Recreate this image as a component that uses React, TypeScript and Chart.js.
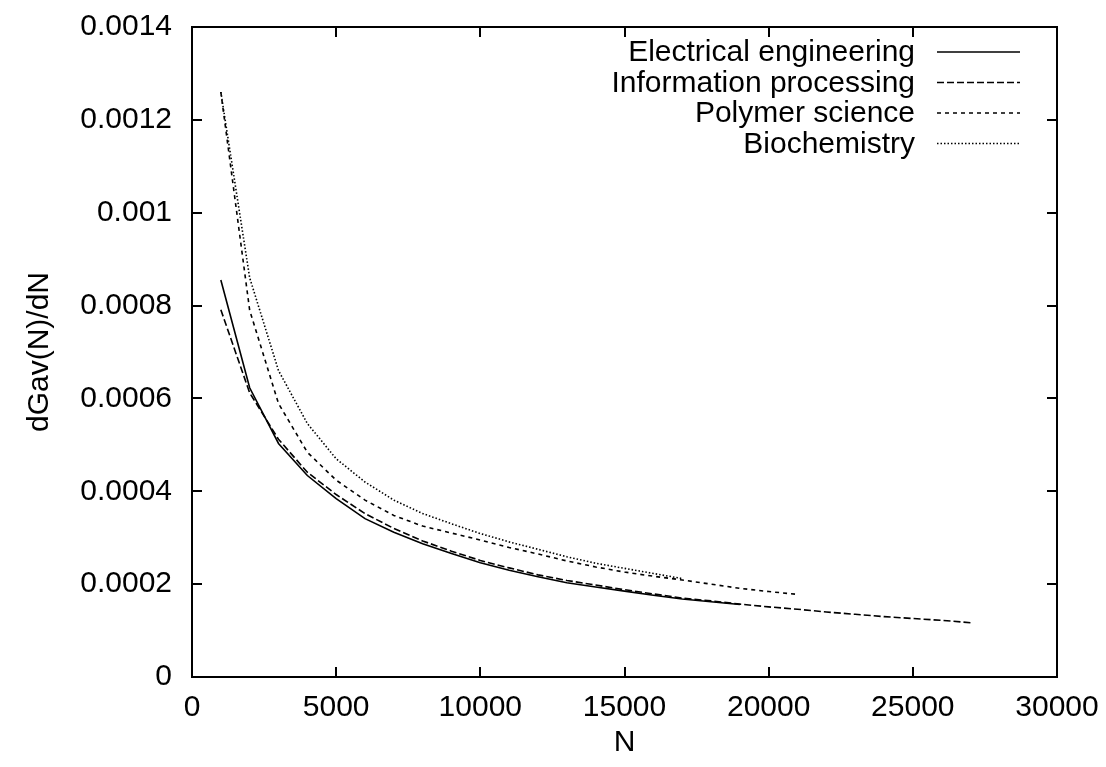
import React, { useEffect, useRef } from "react";
import { Chart, registerables } from "chart.js";

Chart.register(...registerables);

// ---- data ----
const nEE = [1000, 2000, 3000, 4000, 5000, 6000, 7000, 8000, 9000, 10000, 11000, 12000, 13000, 14000, 15000, 16000, 17000, 18000, 19000];
const vEE = [0.000855, 0.000623, 0.000503, 0.000434, 0.000384, 0.000341, 0.000312, 0.000287, 0.000266, 0.000246, 0.00023, 0.000216, 0.000203, 0.000194, 0.000185, 0.000176, 0.000168, 0.000162, 0.000156];

const nIP = [1000, 2000, 3000, 4000, 5000, 6000, 7000, 8000, 9000, 10000, 11000, 12000, 13000, 14000, 15000, 16000, 17000, 18000, 19000, 20000, 21000, 22000, 23000, 24000, 25000, 26000, 27000];
const vIP = [0.000791, 0.000612, 0.000512, 0.000441, 0.000393, 0.000352, 0.00032, 0.000293, 0.000271, 0.000251, 0.000235, 0.00022, 0.000208, 0.000198, 0.000188, 0.000179, 0.00017, 0.000164, 0.000157, 0.000151, 0.000146, 0.00014, 0.000135, 0.00013, 0.000126, 0.000122, 0.000117];

const nPS = [1000, 2000, 3000, 4000, 5000, 6000, 7000, 8000, 9000, 10000, 11000, 12000, 13000, 14000, 15000, 16000, 17000, 18000, 19000, 20000, 21000];
const vPS = [0.00126, 0.00079, 0.000589, 0.000484, 0.000424, 0.000381, 0.000348, 0.000325, 0.00031, 0.000295, 0.000279, 0.000265, 0.00025, 0.000237, 0.000226, 0.000217, 0.000209, 0.0002, 0.000191, 0.000184, 0.000178];

const nBC = [1000, 2000, 3000, 4000, 5000, 6000, 7000, 8000, 9000, 10000, 11000, 12000, 13000, 14000, 15000, 16000, 17000];
const vBC = [0.00126, 0.00086, 0.00066, 0.000546, 0.00047, 0.00042, 0.000381, 0.000352, 0.00033, 0.000309, 0.000291, 0.000275, 0.000259, 0.000245, 0.000234, 0.000223, 0.000212];

const seriesLabels = ["Electrical engineering", "Information processing", "Polymer science", "Biochemistry"];

const xTickValues = [0, 5000, 10000, 15000, 20000, 25000, 30000];
const xTickLabels = ["0", "5000", "10000", "15000", "20000", "25000", "30000"];
const yTickValues = [0, 0.0002, 0.0004, 0.0006, 0.0008, 0.001, 0.0012, 0.0014];
const yTickLabels = ["0", "0.0002", "0.0004", "0.0006", "0.0008", "0.001", "0.0012", "0.0014"];

const xTitle = "N";
const yTitle = "dGav(N)/dN";

const FONT = "'Liberation Sans', Arial, Helvetica, sans-serif";

const toPoints = (xs: number[], ys: number[]) => xs.map((x, i) => ({ x, y: ys[i] }));

const framePlugin = {
  id: "gnuplotFrame",
  afterDatasetsDraw(chart: any) {
    const { ctx, chartArea } = chart;
    const { left, right, top, bottom } = chartArea;
    const xs = chart.scales.x;
    const ys = chart.scales.y;
    ctx.save();
    ctx.strokeStyle = "#000";
    ctx.lineWidth = 2;
    ctx.setLineDash([]);
    ctx.strokeRect(left, top, right - left, bottom - top);
    ctx.beginPath();
    const tl = 10;
    xTickValues.forEach((v) => {
      const px = Math.round(xs.getPixelForValue(v));
      ctx.moveTo(px, bottom);
      ctx.lineTo(px, bottom - tl);
      ctx.moveTo(px, top);
      ctx.lineTo(px, top + tl);
    });
    yTickValues.forEach((v) => {
      const py = Math.round(ys.getPixelForValue(v));
      ctx.moveTo(left, py);
      ctx.lineTo(left + tl, py);
      ctx.moveTo(right, py);
      ctx.lineTo(right - tl, py);
    });
    ctx.stroke();

    // legend (text then line sample, gnuplot style)
    ctx.font = `30px ${FONT}`;
    ctx.fillStyle = "#000";
    ctx.textAlign = "right";
    ctx.textBaseline = "middle";
    chart.data.datasets.forEach((ds: any, i: number) => {
      const y = top + 25 + i * 30.5;
      ctx.fillText(ds.label, right - 142, y + 1);
      ctx.beginPath();
      ctx.lineWidth = ds.borderWidth;
      ctx.setLineDash(ds.borderDash || []);
      ctx.moveTo(right - 120, y);
      ctx.lineTo(right - 37, y);
      ctx.stroke();
    });
    ctx.restore();
  },
};

const zeroPad = (s: any) => {
  s.paddingTop = 0;
  s.paddingBottom = 0;
  s.paddingLeft = 0;
  s.paddingRight = 0;
};

export default function App() {
  const ref = useRef<HTMLCanvasElement | null>(null);

  useEffect(() => {
    if (!ref.current) return;
    const common = { borderColor: "#000", backgroundColor: "#000", pointRadius: 0, tension: 0, fill: false };
    const chart = new Chart(ref.current, {
      type: "line",
      data: {
        datasets: [
          { ...common, label: seriesLabels[0], data: toPoints(nEE, vEE), borderWidth: 1.6, borderDash: [] },
          { ...common, label: seriesLabels[1], data: toPoints(nIP, vIP), borderWidth: 1.6, borderDash: [7, 3] },
          { ...common, label: seriesLabels[2], data: toPoints(nPS, vPS), borderWidth: 1.6, borderDash: [4, 4] },
          { ...common, label: seriesLabels[3], data: toPoints(nBC, vBC), borderWidth: 1.6, borderDash: [1.5, 2] },
        ],
      },
      options: {
        responsive: false,
        animation: false,
        devicePixelRatio: 1,
        layout: { padding: { left: 0, right: 49, top: 27, bottom: 0 } },
        plugins: { legend: { display: false }, tooltip: { enabled: false } },
        scales: {
          x: {
            type: "linear",
            min: 0,
            max: 30000,
            grid: { display: false, drawTicks: false },
            border: { display: false },
            afterBuildTicks: (s: any) => {
              s.ticks = xTickValues.map((v) => ({ value: v }));
            },
            afterFit: (s: any) => {
              s.height = 90;
              zeroPad(s);
            },
            ticks: {
              autoSkip: false,
              maxRotation: 0,
              padding: 13,
              color: "#000",
              font: { family: FONT, size: 30 },
              callback: (_v: any, i: number) => xTickLabels[i],
            },
            title: { display: true, text: xTitle, color: "#000", font: { family: FONT, size: 30 }, padding: { top: 0, bottom: 6 } },
          },
          y: {
            type: "linear",
            min: 0,
            max: 0.0014,
            grid: { display: false, drawTicks: false },
            border: { display: false },
            afterBuildTicks: (s: any) => {
              s.ticks = yTickValues.map((v) => ({ value: v }));
            },
            afterFit: (s: any) => {
              s.width = 192;
              zeroPad(s);
            },
            ticks: {
              autoSkip: false,
              padding: 20,
              color: "#000",
              font: { family: FONT, size: 30 },
              callback: (_v: any, i: number) => yTickLabels[i],
            },
            title: { display: true, text: yTitle, color: "#000", font: { family: FONT, size: 30 }, padding: { top: 22, bottom: 0 } },
          },
        },
      },
      plugins: [framePlugin],
    });
    return () => chart.destroy();
  }, []);

  return (
    <div style={{ position: "fixed", left: 0, top: 0, width: 1106, height: 767, background: "#fff" }}>
      <canvas ref={ref} width={1106} height={767} style={{ display: "block" }} />
    </div>
  );
}
